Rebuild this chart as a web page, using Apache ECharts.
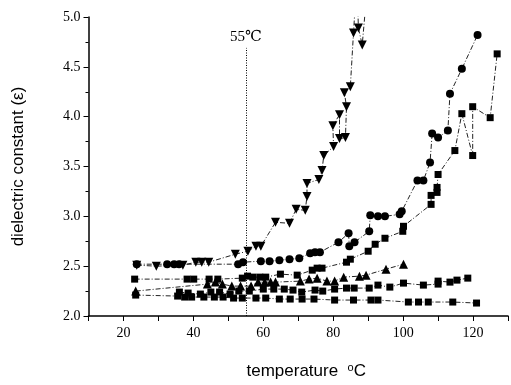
<!DOCTYPE html>
<html>
<head>
<meta charset="utf-8">
<script src="https://cdn.jsdelivr.net/npm/echarts@6/dist/echarts.min.js"></script>
<style>
  html, body { margin: 0; padding: 0; background: #fff; }
  #chart { width: 511px; height: 385px; }
</style>
</head>
<body>
<div id="chart"></div>
<script>
// temperature (°C), dielectric constant pairs
const downTriData = [
  [23.8, 2.51], [29.4, 2.50], [37.0, 2.51], [40.7, 2.54], [42.4, 2.54], [44.4, 2.54],
  [52.0, 2.62], [55.6, 2.65], [57.9, 2.70], [59.3, 2.70], [63.5, 2.94], [67.5, 2.93],
  [69.4, 3.07], [72.0, 3.06], [72.5, 3.20], [72.5, 3.33], [75.9, 3.37], [76.8, 3.46],
  [77.3, 3.61], [80.1, 3.70], [79.9, 3.91], [81.8, 4.02], [81.8, 3.78], [83.5, 3.79],
  [83.8, 4.10], [83.2, 4.24], [84.9, 4.30], [85.8, 4.84], [86.8, 5.40], [87.2, 4.89],
  [88.3, 4.72], [90.0, 5.40]
];
const circleData = [
  [23.8, 2.52], [32.5, 2.52], [34.5, 2.52], [35.9, 2.52], [52.8, 2.52], [54.2, 2.54],
  [59.3, 2.55], [61.8, 2.55], [64.6, 2.56], [67.5, 2.57], [70.3, 2.58], [73.4, 2.63],
  [74.8, 2.64], [76.2, 2.64], [81.5, 2.74], [84.4, 2.83], [84.6, 2.70], [86.1, 2.74],
  [90.3, 2.85], [90.6, 3.01], [92.8, 3.00], [94.8, 3.00], [99.0, 3.02], [99.6, 3.05],
  [104.1, 3.36], [105.8, 3.36], [107.7, 3.54], [108.3, 3.83], [110.0, 3.79], [112.8, 3.86],
  [113.4, 4.23], [116.8, 4.48], [121.3, 4.82]
];
const squareUpperData = [
  [23.2, 2.37], [38.2, 2.37], [40.1, 2.37], [44.5, 2.37], [47.0, 2.37], [54.0, 2.38],
  [55.5, 2.40], [57.0, 2.39], [59.0, 2.39], [60.7, 2.39], [64.9, 2.42], [69.7, 2.41],
  [74.0, 2.46], [75.4, 2.48], [76.8, 2.48], [83.8, 2.54], [84.9, 2.57], [90.0, 2.65],
  [92.0, 2.72], [94.8, 2.78], [99.9, 2.85], [100.1, 2.90], [108.0, 3.12], [108.0, 3.21],
  [109.7, 3.24], [109.7, 3.29], [110.0, 3.42], [114.8, 3.66], [116.8, 4.03], [119.9, 3.61],
  [119.9, 4.10], [124.9, 3.99], [126.9, 4.63]
];
const triangleData = [
  [23.5, 2.25], [44.0, 2.32], [46.3, 2.34], [48.3, 2.32], [51.0, 2.30], [53.5, 2.30],
  [56.5, 2.30], [58.5, 2.34], [60.4, 2.34], [62.1, 2.34], [63.5, 2.34], [70.6, 2.35],
  [73.1, 2.37], [75.4, 2.38], [78.2, 2.35], [80.4, 2.35], [83.0, 2.39], [87.5, 2.40],
  [89.4, 2.41], [95.1, 2.47], [100.1, 2.52]
];
const squareMiddleData = [
  [36.0, 2.24], [38.5, 2.23], [42.0, 2.22], [45.0, 2.24], [47.5, 2.24], [50.5, 2.22],
  [53.0, 2.25], [56.0, 2.25], [60.0, 2.27], [63.0, 2.27], [66.0, 2.27], [68.5, 2.26],
  [71.0, 2.24], [74.8, 2.26], [77.0, 2.25], [80.4, 2.27], [83.8, 2.28], [86.0, 2.28],
  [90.3, 2.28], [92.8, 2.31], [96.2, 2.29], [100.1, 2.33], [105.8, 2.31], [110.0, 2.32],
  [110.0, 2.35], [113.4, 2.34], [115.4, 2.36], [118.5, 2.38]
];
const squareLowerData = [
  [23.5, 2.21], [35.5, 2.20], [37.5, 2.19], [39.5, 2.19], [43.0, 2.19], [46.0, 2.19],
  [48.5, 2.19], [51.5, 2.18], [54.0, 2.18], [57.9, 2.18], [60.7, 2.18], [64.6, 2.17],
  [67.7, 2.17], [71.1, 2.17], [74.5, 2.17], [80.4, 2.16], [85.8, 2.16], [90.8, 2.16],
  [92.8, 2.16], [101.5, 2.14], [104.4, 2.14], [107.2, 2.14], [114.2, 2.14], [121.0, 2.13]
];

const refTemp = 55;
const refTop = 4.69;
const refLabel = '55℃';

const chart = echarts.init(document.getElementById('chart'));

const linkStyle = { color: '#222', width: 1, type: [5, 2, 1, 2] };
const mk = (data, symbol, size, rotate) => ({
  type: 'line',
  data: data,
  symbol: symbol,
  symbolSize: size,
  symbolRotate: rotate || 0,
  showSymbol: true,
  itemStyle: { color: '#000' },
  lineStyle: linkStyle,
  animation: false
});

const serif = '"Liberation Serif", "DejaVu Serif", serif';
const sans = '"Liberation Sans", Arial, sans-serif';

const downTri = mk(downTriData, 'triangle', 9, 180);
downTri.markLine = {
  silent: true,
  symbol: 'none',
  lineStyle: { color: '#000', width: 1, type: [1, 1.5] },
  label: { show: true, position: 'end', formatter: refLabel, color: '#000', fontFamily: serif, fontSize: 15, distance: 3 },
  data: [[{ coord: [refTemp, 2] }, { coord: [refTemp, refTop] }]]
};

chart.setOption({
  animation: false,
  grid: { left: 88.5, top: 17, width: 425, height: 300 },
  xAxis: {
    type: 'value',
    min: 10,
    max: 130,
    interval: 10,
    name: 'temperature  {s|o}C',
    nameLocation: 'middle',
    nameGap: 46,
    nameTextStyle: {
      color: '#000', fontFamily: sans, fontSize: 17, padding: [0, 0, 0, 16],
      rich: { s: { fontSize: 11, verticalAlign: 'top', padding: [0, 0, 8, 0], fontFamily: sans } }
    },
    axisLine: { lineStyle: { color: '#000', width: 1.5 } },
    axisTick: { length: 5, lineStyle: { color: '#000' } },
    axisLabel: {
      color: '#000', fontFamily: serif, fontSize: 14, margin: 10,
      formatter: v => (v % 20 === 0 && v >= 20 && v <= 120 ? String(v) : '')
    },
    splitLine: { show: false }
  },
  yAxis: {
    type: 'value',
    min: 2,
    max: 5,
    interval: 0.5,
    name: 'dielectric constant (ε)',
    nameLocation: 'middle',
    nameRotate: 90,
    nameGap: 62,
    nameTextStyle: { color: '#000', fontFamily: sans, fontSize: 17 },
    axisLine: { show: true, lineStyle: { color: '#000', width: 1.5 } },
    axisTick: { show: true, length: 5, lineStyle: { color: '#000' } },
    minorTick: { show: true, splitNumber: 2, length: 3, lineStyle: { color: '#000' } },
    axisLabel: { color: '#000', fontFamily: serif, fontSize: 14, margin: 8, formatter: v => v.toFixed(1) },
    splitLine: { show: false }
  },
  series: [
    downTri,
    mk(circleData, 'circle', 8),
    mk(squareUpperData, 'rect', 7),
    mk(triangleData, 'triangle', 9),
    mk(squareMiddleData, 'rect', 7),
    mk(squareLowerData, 'rect', 7)
  ]
});
</script>
</body>
</html>
